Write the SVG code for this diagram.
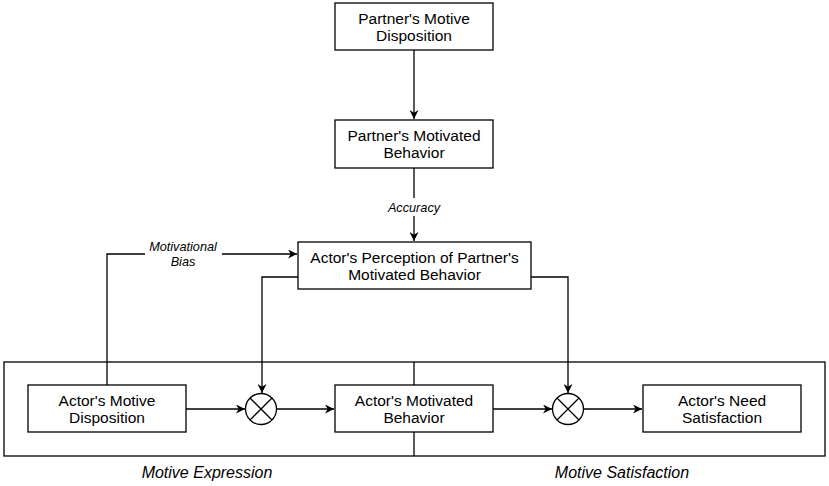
<svg xmlns="http://www.w3.org/2000/svg" width="829" height="486" viewBox="0 0 829 486">
<style>
.box{fill:#fff;stroke:#000;stroke-width:1.3}
.t{font-family:"Liberation Sans",Arial,sans-serif;font-size:15.5px;text-anchor:middle;fill:#000}
.i{font-family:"Liberation Sans",Arial,sans-serif;font-style:italic;text-anchor:middle;fill:#000}
.c{fill:none;stroke:#000;stroke-width:1.3}
</style>
<defs>
<marker id="a" viewBox="0 0 10 10" refX="10" refY="5" markerWidth="9" markerHeight="9" markerUnits="userSpaceOnUse" orient="auto">
<path d="M0,0 L10,5 L0,10 L3,5 Z" fill="#000"/>
</marker>
</defs>
<rect width="829" height="486" fill="#fff"/>
<g id="frame">
<rect x="4" y="362" width="821" height="94" class="c"/>
<line x1="414" y1="362" x2="414" y2="456" class="c"/>
<text x="207" y="478" class="i" font-size="16">Motive Expression</text>
<text x="622" y="478" class="i" font-size="16">Motive Satisfaction</text>
</g>
<g id="connectors">
<path d="M414,50 V119" class="c" marker-end="url(#a)"/>
<path d="M414,168 V198 M414,216 V241" class="c" marker-end="url(#a)"/>
<path d="M107,385 V254 H145 M222,254 H297" class="c" marker-end="url(#a)"/>
<path d="M298,277 H262 V393" class="c" marker-end="url(#a)"/>
<path d="M531,277 H568 V393" class="c" marker-end="url(#a)"/>
<path d="M186,409 H245" class="c" marker-end="url(#a)"/>
<path d="M277,409 H334" class="c" marker-end="url(#a)"/>
<path d="M493,409 H552" class="c" marker-end="url(#a)"/>
<path d="M584,409 H642" class="c" marker-end="url(#a)"/>
<text x="414" y="212" class="i" font-size="12.7">Accuracy</text>
<text x="183" y="251" class="i" font-size="12.7">Motivational</text>
<text x="183" y="266" class="i" font-size="12.7">Bias</text>
</g>
<g id="partner-disposition">
<rect x="335" y="3" width="158" height="47" class="box"/>
<text x="414" y="24" class="t">Partner's Motive</text>
<text x="414" y="41" class="t">Disposition</text>
</g>
<g id="partner-behavior">
<rect x="335" y="120" width="158" height="48" class="box"/>
<text x="414" y="141" class="t">Partner's Motivated</text>
<text x="414" y="158" class="t">Behavior</text>
</g>
<g id="actor-perception">
<rect x="298" y="242" width="233" height="47" class="box"/>
<text x="414.5" y="263" class="t">Actor's Perception of Partner's</text>
<text x="414.5" y="280" class="t">Motivated Behavior</text>
</g>
<g id="actor-disposition">
<rect x="28" y="385" width="158" height="47" class="box"/>
<text x="107" y="406" class="t">Actor's Motive</text>
<text x="107" y="423" class="t">Disposition</text>
</g>
<g id="mult1">
<circle cx="261" cy="409" r="15.5" class="box"/>
<path d="M250,398 L272,420 M272,398 L250,420" class="c"/>
</g>
<g id="actor-behavior">
<rect x="335" y="385" width="158" height="47" class="box"/>
<text x="414" y="406" class="t">Actor's Motivated</text>
<text x="414" y="423" class="t">Behavior</text>
</g>
<g id="mult2">
<circle cx="568" cy="409" r="15.5" class="box"/>
<path d="M557,398 L579,420 M579,398 L557,420" class="c"/>
</g>
<g id="actor-need">
<rect x="643" y="385" width="158" height="47" class="box"/>
<text x="722" y="406" class="t">Actor's Need</text>
<text x="722" y="423" class="t">Satisfaction</text>
</g>
</svg>
